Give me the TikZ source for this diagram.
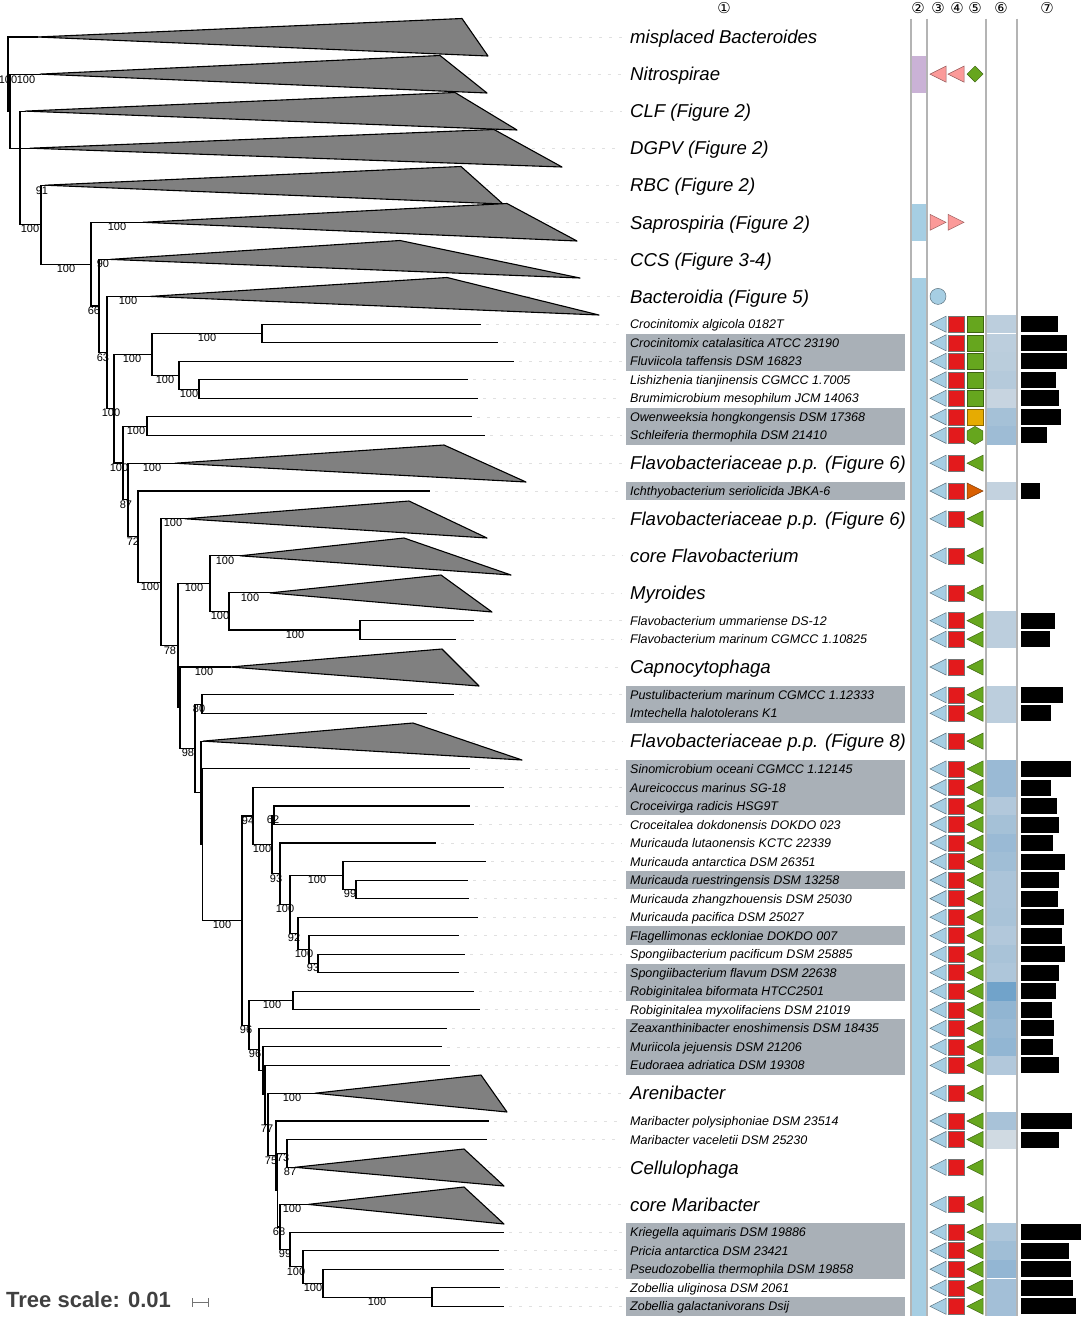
\documentclass[tikz,border=0pt]{standalone}
\usepackage{fontspec}
\setmainfont{Liberation Sans}
\newfontfamily\circfont{DejaVu Sans}
\usetikzlibrary{calc}

\definecolor{cladegray}{HTML}{808080}
\definecolor{hlgray}{HTML}{A9B0B7}
\definecolor{stripblue}{HTML}{A6CEE3}
\definecolor{strippurple}{HTML}{CAB2D6}
\definecolor{pinkish}{HTML}{FB9A99}
\definecolor{sqred}{HTML}{E31A1C}
\definecolor{leafgreen}{HTML}{66A61E}
\definecolor{ambergold}{HTML}{E6AB02}
\definecolor{rustorange}{HTML}{D95F02}
\definecolor{hmdark}{HTML}{689DC8}
\definecolor{hmlight}{HTML}{E0E3E6}
\definecolor{sepgray}{HTML}{B4B4B4}

\tikzset{
    branch/.style={line width=1.1pt, line cap=rect},
    clade/.style={fill=cladegray, draw=black, line width=1.1pt, line join=round},
    leader/.style={draw=black!12, line width=0.8pt, dash pattern=on 3pt off 7pt},
    boot/.style={inner sep=0pt, font=\fontsize{11}{11}\selectfont},
    taxon/.style={anchor=base west, inner sep=0pt, font=\fontsize{12.5}{13}\selectfont\itshape},
    group/.style={anchor=base west, inner sep=0pt, font=\fontsize{18.6}{19}\selectfont\itshape},
    hdr/.style={inner sep=0pt, font=\circfont\fontsize{15}{15}\selectfont},
    hilite/.style={fill=hlgray},
    sep/.style={draw=sepgray, line width=1.3pt},
    blueshape/.style={fill=stripblue, draw=stripblue!55!black, line width=0.5pt},
    pinkshape/.style={fill=pinkish, draw=pinkish!60!black, line width=0.5pt},
    redshape/.style={fill=sqred, draw=black!55, line width=0.5pt},
    greenshape/.style={fill=leafgreen, draw=leafgreen!60!black, line width=0.5pt},
    bar/.style={fill=black}
}

\begin{document}
\begin{tikzpicture}[x=1pt, y=-1pt]
\useasboundingbox (0,0) rectangle (1083,1318);

% label highlights
\foreach \ya/\yb in {333.5/370.6, 407.6/444.7, 481.7/500.3, 685.6/722.6, 759.7/815.3, 870.8/889.4,
    926.4/945.0, 963.5/1000.5, 1019.1/1074.7, 1222.9/1278.5, 1297.0/1315.6}
    \fill[hilite] (626,\ya) rectangle (905,\yb);

% collapsed clades
\foreach \i/\sx/\y/\tx/\ty/\bx/\by/\name in {
    1/37/37.0/462/18.5/488/56/misplaced Bacteroides,
    2/40/74.1/440/55.5/487/93/Nitrospirae,
    3/25/111.1/455/92.5/517/130/CLF (Figure 2),
    4/30/148.2/494/129.5/562/167/DGPV (Figure 2),
    5/45/185.2/461/166.5/503/204/RBC (Figure 2),
    6/143/222.3/507/203.5/577/241/Saprospiria (Figure 2),
    7/110/259.4/400/240.5/580/278/CCS (Figure 3-4),
    8/150/296.4/447/277.5/599/315/Bacteroidia (Figure 5),
    16/175/463.2/444/445/526/482/Flavobacteriaceae p.p. (Figure 6),
    18/185/518.8/409/501/487/538/Flavobacteriaceae p.p. (Figure 6),
    19/240/555.8/404/538/511/575/core Flavobacterium,
    20/270/592.9/441/575/492/612/Myroides,
    23/230/667.0/442/649/479/686/Capnocytophaga,
    26/203/741.1/413/723/522/760/Flavobacteriaceae p.p. (Figure 8),
    44/315/1093.2/481/1075/507/1112/Arenibacter,
    47/295/1167.3/464/1149/504/1186/Cellulophaga,
    48/308/1204.4/464/1187/504/1224/core Maribacter}
{
    \coordinate (c\i) at (\sx,\y);
    \draw[leader] ({(\tx+\bx)/2+4},\y) -- (622,\y);
    \filldraw[clade] (c\i) -- (\tx,\ty) -- (\bx,\by) -- cycle;
    \node[group] (g\i) at (630,\y+6.7) {\name};
}

% single taxa
\foreach \i/\x/\y/\name in {
    9/480/324.2/Crocinitomix algicola 0182T,
    10/497/342.8/Crocinitomix catalasitica ATCC 23190,
    11/513/361.3/Fluviicola taffensis DSM 16823,
    12/467/379.8/Lishizhenia tianjinensis CGMCC 1.7005,
    13/477/398.3/Brumimicrobium mesophilum JCM 14063,
    14/471/416.9/Owenweeksia hongkongensis DSM 17368,
    15/484/435.4/Schleiferia thermophila DSM 21410,
    17/429/491.0/Ichthyobacterium seriolicida JBKA-6,
    21/473/620.7/Flavobacterium ummariense DS-12,
    22/455/639.2/Flavobacterium marinum CGMCC 1.10825,
    24/453/694.8/Pustulibacterium marinum CGMCC 1.12333,
    25/426/713.3/Imtechella halotolerans K1,
    27/469/768.9/Sinomicrobium oceani CGMCC 1.12145,
    28/503/787.5/Aureicoccus marinus SG-18,
    29/469/806.0/Croceivirga radicis HSG9T,
    30/473/824.5/Croceitalea dokdonensis DOKDO 023,
    31/435/843.0/Muricauda lutaonensis KCTC 22339,
    32/485/861.6/Muricauda antarctica DSM 26351,
    33/467/880.1/Muricauda ruestringensis DSM 13258,
    34/468/898.6/Muricauda zhangzhouensis DSM 25030,
    35/477/917.2/Muricauda pacifica DSM 25027,
    36/458/935.7/Flagellimonas eckloniae DOKDO 007,
    37/464/954.2/Spongiibacterium pacificum DSM 25885,
    38/458/972.7/Spongiibacterium flavum DSM 22638,
    39/473/991.3/Robiginitalea biformata HTCC2501,
    40/479/1009.8/Robiginitalea myxolifaciens DSM 21019,
    41/446/1028.3/Zeaxanthinibacter enoshimensis DSM 18435,
    42/441/1046.9/Muriicola jejuensis DSM 21206,
    43/449/1065.4/Eudoraea adriatica DSM 19308,
    45/488/1121.0/Maribacter polysiphoniae DSM 23514,
    46/486/1139.5/Maribacter vaceletii DSM 25230,
    49/503/1232.2/Kriegella aquimaris DSM 19886,
    50/498/1250.7/Pricia antarctica DSM 23421,
    51/503/1269.2/Pseudozobellia thermophila DSM 19858,
    52/499/1287.8/Zobellia uliginosa DSM 2061,
    53/503/1306.3/Zobellia galactanivorans Dsij}
{
    \coordinate (t\i) at (\x,\y);
    \draw[leader] (\x+6,\y) -- (622,\y);
    \node[taxon] (s\i) at (630,\y+4.5) {\name};
}

% internal nodes
\foreach \n/\x/\y in {
    root/8/74.1, n1/10/111.1, n3/20/148.2, n4/41/224.7, n66/91/264.2, n90/99/306.0,
    n63/107/352.6, nA100/114/408.7, nC1/152/354.4, nCro/262/333.5, nFlu/179/375.2,
    nLis/199/389.1, nX/123/463.0, nOwen/147/426.2, n87/128/499.9, n72/138/536.6,
    n100c/161/582.3, n78/178/645.7, nD/210/583.6, nMyr/229/611.4, nUmm/360/630.0,
    n98/180/707.8, n98b/195/748.5, nF80/202/704.1, nA/201/792.9, nB/202.5/844.7,
    nE100/242/920.6, n94/253/816.0, nQ/272/844.5, n62/274/815.3, n93/280/873.7,
    nG/290/904.5, nH/343/875.5, n99/356/889.4, n92/298/933.4, nI/309/949.6,
    n93b/318/963.5, nE/249/1025.1, nJ/293/1000.6, nCc/259/1049.6, nDd/263/1070.9,
    nEe/265/1094.9, n77/268/1124.4, n75/276/1155.6, n190/277.5/1190.2, n73/287/1153.4,
    nCm/280/1227.0, nKr/290/1249.6, nPr/303/1266.9, nPz/323/1283.1, nZ/432/1297.1}
    \coordinate (\n) at (\x,\y);

\foreach \p/\c in {
    root/c1, root/n1, n1/c2, n1/n3, n3/c3, n3/c4, n3/n4, n4/c5, n4/n66, n66/c6, n66/n90,
    n90/c7, n90/n63, n63/c8, n63/nA100, nA100/nC1, nA100/nX, nC1/nCro, nC1/nFlu,
    nCro/t9, nCro/t10, nFlu/t11, nFlu/nLis, nLis/t12, nLis/t13, nX/nOwen, nX/n87,
    nOwen/t14, nOwen/t15, n87/c16, n87/n72, n72/t17, n72/n100c, n100c/c18, n100c/n78,
    n78/nD, n78/n98, nD/c19, nD/nMyr, nMyr/c20, nMyr/nUmm, nUmm/t21, nUmm/t22,
    n98/c23, n98/n98b, n98b/nF80, n98b/nA, nF80/t24, nF80/t25, nA/c26, nA/nB,
    nB/t27, nB/nE100, nE100/n94, nE100/nE, n94/t28, n94/nQ, nQ/n62, nQ/n93,
    n62/t29, n62/t30, n93/t31, n93/nG, nG/nH, nG/n92, nH/t32, nH/n99, n99/t33, n99/t34,
    n92/t35, n92/nI, nI/t36, nI/n93b, n93b/t37, n93b/t38, nE/nJ, nE/nCc, nJ/t39, nJ/t40,
    nCc/t41, nCc/nDd, nDd/t42, nDd/nEe, nEe/t43, nEe/n77, n77/c44, n77/n75, n75/t45,
    n75/n190, n190/n73, n190/nCm, n73/t46, n73/c47, nCm/c48, nCm/nKr, nKr/t49, nKr/nPr,
    nPr/t50, nPr/nPz, nPz/t51, nPz/nZ, nZ/t52, nZ/t53}
    \draw[branch] (\p) |- (\c);

% bootstrap values
\foreach \x/\y/\b [count=\k] in {
    8/80/100, 26/80/100, 42/191/91, 30/229/100, 66/269/100, 117/227/100, 103/264/90,
    94/311/66, 128/301/100, 103/358/63, 207/338/100, 132/359/100, 165/380/100,
    189/394/100, 111/413/100, 136/431/100, 119/468/100, 152/468/100, 126/505/87,
    173/523/100, 133/542/72, 150/587/100, 194/588/100, 225/561/100, 250/598/100,
    220/616/100, 295/635/100, 170/651/78, 204/672/100, 199/709/80, 188/753/98,
    222/925/100, 248/821/94, 273/820/62, 262/849/100, 276/879/93, 317/880/100,
    350/894/99, 285/909/100, 294/938/92, 304/954/100, 313/968/93, 272/1005/100,
    246/1030/96, 255/1054/96, 292/1098/100, 267/1129/77, 271/1161/75, 283/1158/73,
    290/1172/87, 292/1209/100, 279/1232/68, 285/1254/99, 296/1272/100, 313/1288/100,
    377/1302/100}
    \node[boot] (b\k) at (\x,\y) {\b};

% column 2 strip
\fill[strippurple] (911,55.6) rectangle (927,92.6);
\fill[stripblue] (911,203.8) rectangle (927,240.8);
\fill[stripblue] (911,277.9) rectangle (927,1315.6);

% column 6 heat map
\foreach \y/\v in {
    324.2/30, 342.8/30, 361.3/32, 379.8/36, 398.3/21, 416.9/49, 435.4/55, 491.0/24,
    620.7/30, 639.2/30, 694.8/30, 713.3/30, 768.9/58, 787.5/58, 806.0/38, 824.5/49,
    843.0/58, 861.6/53, 880.1/44, 898.6/44, 917.2/46, 935.7/38, 954.2/46, 972.7/42,
    991.3/92, 1009.8/66, 1028.3/60, 1046.9/65, 1065.4/38, 1121.0/47, 1139.5/13,
    1232.2/42, 1250.7/53, 1269.2/64, 1287.8/51, 1306.3/51}
    \fill[hmdark!\v!hmlight] (986,\y-9.27) rectangle (1017,\y+9.27);

\foreach \x in {911, 927, 986, 1017}
    \draw[sep] (\x,18.5) -- (\x,1315.6);

% columns 3 and 4
\foreach \y in {324.2, 342.8, 361.3, 379.8, 398.3, 416.9, 435.4, 463.2, 491.0, 518.8,
    555.8, 592.9, 620.7, 639.2, 667.0, 694.8, 713.3, 741.1, 768.9, 787.5, 806.0, 824.5,
    843.0, 861.6, 880.1, 898.6, 917.2, 935.7, 954.2, 972.7, 991.3, 1009.8, 1028.3,
    1046.9, 1065.4, 1093.2, 1121.0, 1139.5, 1167.3, 1204.4, 1232.2, 1250.7, 1269.2,
    1287.8, 1306.3}
{
    \filldraw[blueshape] (930,\y) -- (946,\y-8) -- (946,\y+8) -- cycle;
    \filldraw[redshape] (948.5,\y-8) rectangle (964.5,\y+8);
}

% column 5
\foreach \y in {463.2, 518.8, 555.8, 592.9, 620.7, 639.2, 667.0, 694.8, 713.3, 741.1,
    768.9, 787.5, 806.0, 824.5, 843.0, 861.6, 880.1, 898.6, 917.2, 935.7, 954.2, 972.7,
    991.3, 1009.8, 1028.3, 1046.9, 1065.4, 1093.2, 1121.0, 1139.5, 1167.3, 1204.4,
    1232.2, 1250.7, 1269.2, 1287.8, 1306.3}
    \filldraw[greenshape] (967,\y) -- (983,\y-8) -- (983,\y+8) -- cycle;
\foreach \y in {324.2, 342.8, 361.3, 379.8, 398.3}
    \filldraw[greenshape] (967,\y-8) rectangle (983,\y+8);
\filldraw[fill=ambergold, draw=ambergold!60!black, line width=0.5pt] (967,408.9) rectangle (983,424.9);
\filldraw[greenshape] (975,435.4) +(90:9pt) -- +(150:9pt) -- +(210:9pt) -- +(270:9pt) -- +(330:9pt) -- +(30:9pt) -- cycle;
\filldraw[fill=rustorange, draw=rustorange!60!black, line width=0.5pt] (967,483) -- (983,491) -- (967,499) -- cycle;

% outgroup marks
\filldraw[pinkshape] (930,74.1) -- (946,66.1) -- (946,82.1) -- cycle;
\filldraw[pinkshape] (948,74.1) -- (964,66.1) -- (964,82.1) -- cycle;
\filldraw[greenshape] (967,74.1) -- (975,66.1) -- (983,74.1) -- (975,82.1) -- cycle;
\filldraw[pinkshape] (930,214.3) -- (946,222.3) -- (930,230.3) -- cycle;
\filldraw[pinkshape] (948,214.3) -- (964,222.3) -- (948,230.3) -- cycle;
\filldraw[blueshape] (938,296.4) circle[radius=8pt];

% column 7 bars
\foreach \y/\e in {
    324.2/1058, 342.8/1067, 361.3/1067, 379.8/1056, 398.3/1059, 416.9/1061, 435.4/1047,
    491.0/1040, 620.7/1055, 639.2/1050, 694.8/1063, 713.3/1051, 768.9/1071, 787.5/1051,
    806.0/1057, 824.5/1059, 843.0/1053, 861.6/1065, 880.1/1059, 898.6/1058, 917.2/1064,
    935.7/1062, 954.2/1065, 972.7/1059, 991.3/1056, 1009.8/1052, 1028.3/1054,
    1046.9/1053, 1065.4/1059, 1121.0/1072, 1139.5/1059, 1232.2/1081, 1250.7/1069,
    1269.2/1071, 1287.8/1073, 1306.3/1076}
    \fill[bar] (1021,\y-8) rectangle (\e,\y+8);

% column headers
\node[hdr] (h1) at (724,8.5) {①};
\node[hdr] (h2) at (918,8.5) {②};
\node[hdr] (h3) at (938,8.5) {③};
\node[hdr] (h4) at (957,8.5) {④};
\node[hdr] (h5) at (975,8.5) {⑤};
\node[hdr] (h6) at (1001,8.5) {⑥};
\node[hdr] (h7) at (1047,8.5) {⑦};

% tree scale
\node[anchor=base west, inner sep=0pt, text=black!75, font=\bfseries\fontsize{22}{22}\selectfont] (scale) at (6,1307) {Tree scale: 0.01};
\draw[black!55, line width=0.8pt] (192,1298) -- (192,1307) (192,1302.5) -- (208,1302.5) (208,1298) -- (208,1307);
\end{tikzpicture}
\end{document}
